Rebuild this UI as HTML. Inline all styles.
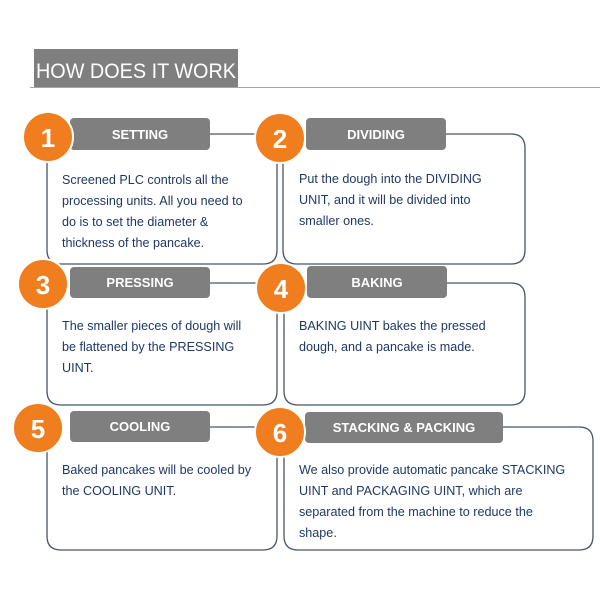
<!DOCTYPE html>
<html><head><meta charset="utf-8"><style>
html,body{margin:0;padding:0;background:#fff;width:600px;height:600px;overflow:hidden}
svg{display:block}
text{font-family:"Liberation Sans",sans-serif}
.t{font-size:12.6px;fill:#1f3864}
.h{font-size:13px;fill:#fff;font-weight:bold;text-anchor:middle}
.n{font-size:26px;fill:#fff;text-anchor:middle;font-weight:bold}
.b{fill:none;stroke:#44546a;stroke-width:1.3}
</style></head><body>
<svg width="600" height="600" viewBox="0 0 600 600">
<rect x="34" y="49" width="204" height="38" fill="#7f7f7f"/>
<text x="36" y="78" font-size="21" fill="#fff" textLength="200" lengthAdjust="spacingAndGlyphs">HOW DOES IT WORK</text>
<line x1="30" y1="87.5" x2="600" y2="87.5" stroke="#a6a6a6" stroke-width="1"/>

<path class="b" d="M47 160 V250 Q47 264 61 264 H263 Q277 264 277 250 V160"/>
<line class="b" x1="210" y1="134" x2="256" y2="134"/>
<path class="b" d="M283 160 V250 Q283 264 297 264 H511 Q525 264 525 250 V148 Q525 134 511 134 H446"/>
<path class="b" d="M47 305 V391 Q47 405 61 405 H263 Q277 405 277 391 V310"/>
<line class="b" x1="210" y1="283" x2="256" y2="283"/>
<path class="b" d="M284 310 V391 Q284 405 298 405 H511 Q525 405 525 391 V297 Q525 283 511 283 H447"/>
<path class="b" d="M47 450 V536 Q47 550 61 550 H263 Q277 550 277 536 V455"/>
<line class="b" x1="210" y1="427" x2="256" y2="427"/>
<path class="b" d="M284 455 V536 Q284 550 298 550 H579 Q593 550 593 536 V441 Q593 427 579 427 H503"/>

<rect x="70" y="118" width="140" height="32" rx="4" fill="#7f7f7f"/><text class="h" x="140" y="139">SETTING</text>
<rect x="306" y="118" width="140" height="32" rx="4" fill="#7f7f7f"/><text class="h" x="376" y="139">DIVIDING</text>
<rect x="70" y="267" width="140" height="31" rx="4" fill="#7f7f7f"/><text class="h" x="140" y="287">PRESSING</text>
<rect x="307" y="266" width="140" height="32" rx="4" fill="#7f7f7f"/><text class="h" x="377" y="287">BAKING</text>
<rect x="70" y="411" width="140" height="31" rx="4" fill="#7f7f7f"/><text class="h" x="140" y="431">COOLING</text>
<rect x="305" y="412" width="198" height="31" rx="4" fill="#7f7f7f"/><text class="h" x="404" y="432">STACKING &amp; PACKING</text>

<circle cx="48" cy="137" r="25" fill="#f07d1e" stroke="#fff" stroke-width="2"/><text class="n" x="48" y="147">1</text>
<circle cx="280" cy="138" r="25" fill="#f07d1e" stroke="#fff" stroke-width="2"/><text class="n" x="280" y="148">2</text>
<circle cx="43" cy="284" r="25" fill="#f07d1e" stroke="#fff" stroke-width="2"/><text class="n" x="43" y="294">3</text>
<circle cx="281" cy="288" r="25" fill="#f07d1e" stroke="#fff" stroke-width="2"/><text class="n" x="281" y="298">4</text>
<circle cx="38" cy="428" r="25" fill="#f07d1e" stroke="#fff" stroke-width="2"/><text class="n" x="38" y="438">5</text>
<circle cx="280" cy="432" r="25" fill="#f07d1e" stroke="#fff" stroke-width="2"/><text class="n" x="280" y="442">6</text>

<text class="t" x="62" y="184">Screened PLC controls all the</text>
<text class="t" x="62" y="205">processing units. All you need to</text>
<text class="t" x="62" y="226">do is to set the diameter &amp;</text>
<text class="t" x="62" y="247">thickness of the pancake.</text>

<text class="t" x="299" y="183">Put the dough into the DIVIDING</text>
<text class="t" x="299" y="204">UNIT, and it will be divided into</text>
<text class="t" x="299" y="225">smaller ones.</text>

<text class="t" x="62" y="330">The smaller pieces of dough will</text>
<text class="t" x="62" y="351">be flattened by the PRESSING</text>
<text class="t" x="62" y="372">UINT.</text>

<text class="t" x="299" y="330">BAKING UINT bakes the pressed</text>
<text class="t" x="299" y="351">dough, and a pancake is made.</text>

<text class="t" x="62" y="474">Baked pancakes will be cooled by</text>
<text class="t" x="62" y="495">the COOLING UNIT.</text>

<text class="t" x="299" y="474">We also provide automatic pancake STACKING</text>
<text class="t" x="299" y="495">UINT and PACKAGING UINT, which are</text>
<text class="t" x="299" y="516">separated from the machine to reduce the</text>
<text class="t" x="299" y="537">shape.</text>
</svg>
</body></html>
